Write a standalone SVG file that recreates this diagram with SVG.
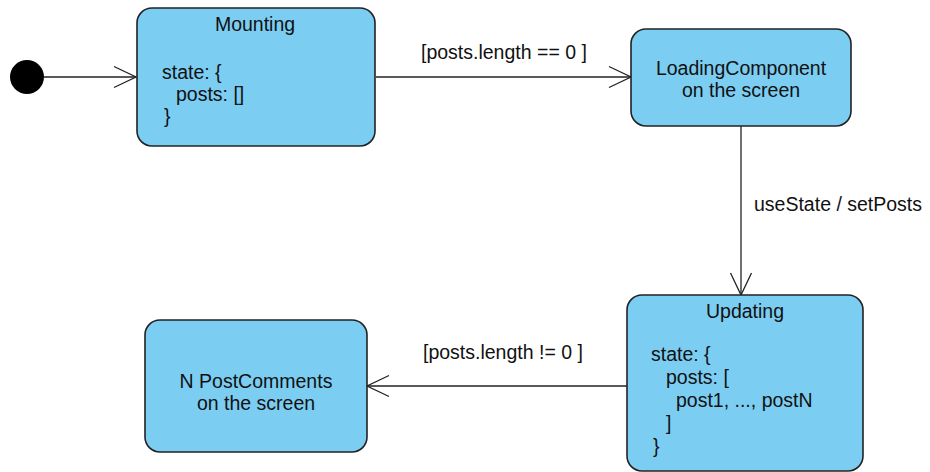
<svg xmlns="http://www.w3.org/2000/svg" width="930" height="472" viewBox="0 0 930 472">
  <style>
    .state { fill: #7bcdf2; stroke: #222; stroke-width: 1.6; }
    .edge { fill: none; stroke: #222; stroke-width: 1.3; }
    text { font-family: "Liberation Sans", Arial, sans-serif; font-size: 19.5px; fill: #111; }
    .c { text-anchor: middle; }
  </style>
  <defs>
    <!-- open V arrowhead used on every transition -->
    <marker id="open" viewBox="0 0 24 24" refX="23" refY="12" markerWidth="24" markerHeight="24" markerUnits="userSpaceOnUse" orient="auto">
      <path d="M1,1.5 L23,12 L1,22.5" fill="none" stroke="#222" stroke-width="1.3"/>
    </marker>
  </defs>
  <rect width="930" height="472" fill="#fff"/>

  <g id="connectors">
    <line class="edge" x1="44" y1="77" x2="136" y2="77" marker-end="url(#open)"/>
    <line class="edge" x1="376" y1="77" x2="631" y2="77" marker-end="url(#open)"/>
    <text x="421" y="59">[posts.length == 0 ]</text>
    <line class="edge" x1="741" y1="126" x2="741" y2="295" marker-end="url(#open)"/>
    <text x="754" y="211">useState / setPosts</text>
    <line class="edge" x1="627" y1="386" x2="367" y2="386" marker-end="url(#open)"/>
    <text x="423" y="359">[posts.length != 0 ]</text>
  </g>

  <g id="initial">
    <circle cx="27" cy="77" r="17" fill="#000"/>
  </g>

  <g id="mounting">
    <rect class="state" x="137" y="8" width="238" height="138" rx="15"/>
    <text class="c" x="255" y="31">Mounting</text>
    <text x="162" y="79">state: {</text>
    <text x="176" y="101">posts: []</text>
    <text x="164" y="123">}</text>
  </g>

  <g id="loading">
    <rect class="state" x="631" y="29" width="220" height="97" rx="15"/>
    <text class="c" x="741" y="75">LoadingComponent</text>
    <text class="c" x="741" y="97">on the screen</text>
  </g>

  <g id="updating">
    <rect class="state" x="627" y="295" width="236" height="176" rx="15"/>
    <text class="c" x="745" y="318">Updating</text>
    <text x="651" y="361">state: {</text>
    <text x="666" y="384">posts: [</text>
    <text x="676" y="407">post1, ..., postN</text>
    <text x="666" y="430">]</text>
    <text x="653" y="453">}</text>
  </g>

  <g id="postcomments">
    <rect class="state" x="145" y="320" width="222" height="132" rx="15"/>
    <text class="c" x="256" y="388">N PostComments</text>
    <text class="c" x="256" y="410">on the screen</text>
  </g>
</svg>
